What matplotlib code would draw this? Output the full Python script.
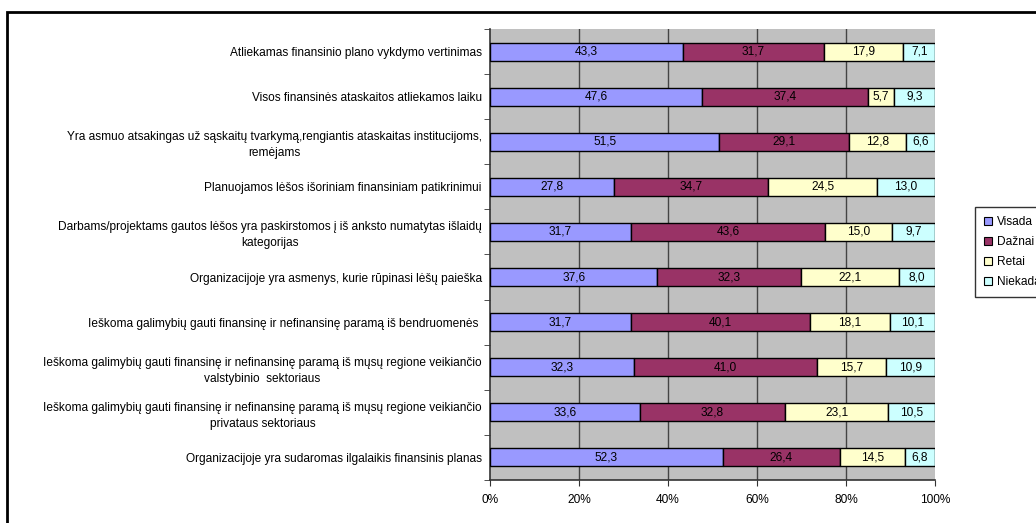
import matplotlib
matplotlib.use("Agg")
import matplotlib.pyplot as plt
from matplotlib.patches import Patch, Rectangle
import numpy as np

plt.rcParams['font.family'] = ['Liberation Sans', 'DejaVu Sans']

categories = [
    "Atliekamas finansinio plano vykdymo vertinimas",
    "Visos finansinės ataskaitos atliekamos laiku",
    "Yra asmuo atsakingas už sąskaitų tvarkymą,rengiantis ataskaitas institucijoms,\nremėjams",
    "Planuojamos lėšos išoriniam finansiniam patikrinimui",
    "Darbams/projektams gautos lėšos yra paskirstomos į iš anksto numatytas išlaidų\nkategorijas",
    "Organizacijoje yra asmenys, kurie rūpinasi lėšų paieška",
    "Ieškoma galimybių gauti finansinę ir nefinansinę paramą iš bendruomenės ",
    "Ieškoma galimybių gauti finansinę ir nefinansinę paramą iš mųsų regione veikiančio\nvalstybinio  sektoriaus",
    "Ieškoma galimybių gauti finansinę ir nefinansinę paramą iš mųsų regione veikiančio\nprivataus sektoriaus",
    "Organizacijoje yra sudaromas ilgalaikis finansinis planas",
]

series_names = ["Visada", "Dažnai", "Retai", "Niekada"]
visada = [43.3, 47.6, 51.5, 27.8, 31.7, 37.6, 31.7, 32.3, 33.6, 52.3]
daznai = [31.7, 37.4, 29.1, 34.7, 43.6, 32.3, 40.1, 41.0, 32.8, 26.4]
retai = [17.9, 5.7, 12.8, 24.5, 15.0, 22.1, 18.1, 15.7, 23.1, 14.5]
niekada = [7.1, 9.3, 6.6, 13.0, 9.7, 8.0, 10.1, 10.9, 10.5, 6.8]
x_ticks = [0, 20, 40, 60, 80, 100]

colors = ["#9999FF", "#993366", "#FFFFCC", "#CCFFFF"]
fs = 8.6

values = np.array([visada, daznai, retai, niekada])
shares = values / values.sum(axis=0) * 100  # 100% stacked

fig = plt.figure(figsize=(10.36, 5.23), dpi=100)
ax = fig.add_axes([490 / 1036, 1 - 480 / 523, 445 / 1036, 451 / 523])
ax.set_facecolor("#C0C0C0")

y = np.arange(len(categories))
left = np.zeros(len(categories))
for k in range(4):
    ax.barh(y, shares[k], left=left, height=0.4, color=colors[k],
            edgecolor="black", linewidth=1.0, zorder=3)
    for i in range(len(categories)):
        ax.text(left[i] + shares[k][i] / 2, y[i], f"{values[k][i]:.1f}".replace(".", ","),
                ha="center", va="center", fontsize=fs, zorder=4)
    left += shares[k]

ax.set_xlim(0, 100)
ax.set_ylim(len(categories) - 0.5, -0.5)
ax.set_xticks(x_ticks)
ax.set_xticklabels([f"{t}%" for t in x_ticks], fontsize=fs)
ax.set_yticks(y)
ax.set_yticklabels(categories, fontsize=fs, ha="right", multialignment="center",
                   linespacing=1.45)
ax.tick_params(axis="y", length=0, pad=6)
ax.set_yticks(np.arange(len(categories) + 1) - 0.5, minor=True)
ax.tick_params(axis="y", which="minor", length=4, direction="out", color="#333333")
ax.tick_params(axis="x", length=4, direction="out", color="#333333", pad=6)

for t in x_ticks[1:-1]:
    ax.axvline(t, color="#444444", linewidth=1.0, zorder=1)

for s in ["top", "right"]:
    ax.spines[s].set_visible(False)
for s in ["left", "bottom"]:
    ax.spines[s].set_color("#333333")
    ax.spines[s].set_linewidth(1.2)

handles = [Patch(facecolor=c, edgecolor="black", linewidth=0.8) for c in colors]
leg = fig.legend(handles, series_names, loc="upper left",
                 bbox_to_anchor=(975 / 1036, 1 - 207 / 523), fontsize=fs,
                 frameon=True, fancybox=False, edgecolor="black",
                 handlelength=0.7, handleheight=0.7, handletextpad=0.4,
                 labelspacing=0.68, borderpad=0.75, borderaxespad=0)
leg.get_frame().set_linewidth(1.0)

fig.patches.append(Rectangle((7 / 1036, -0.1), 1.2, 1 - 12 / 523 + 0.1,
                             transform=fig.transFigure, fill=False,
                             edgecolor="black", linewidth=2))

fig.savefig("out.png", dpi=100)
